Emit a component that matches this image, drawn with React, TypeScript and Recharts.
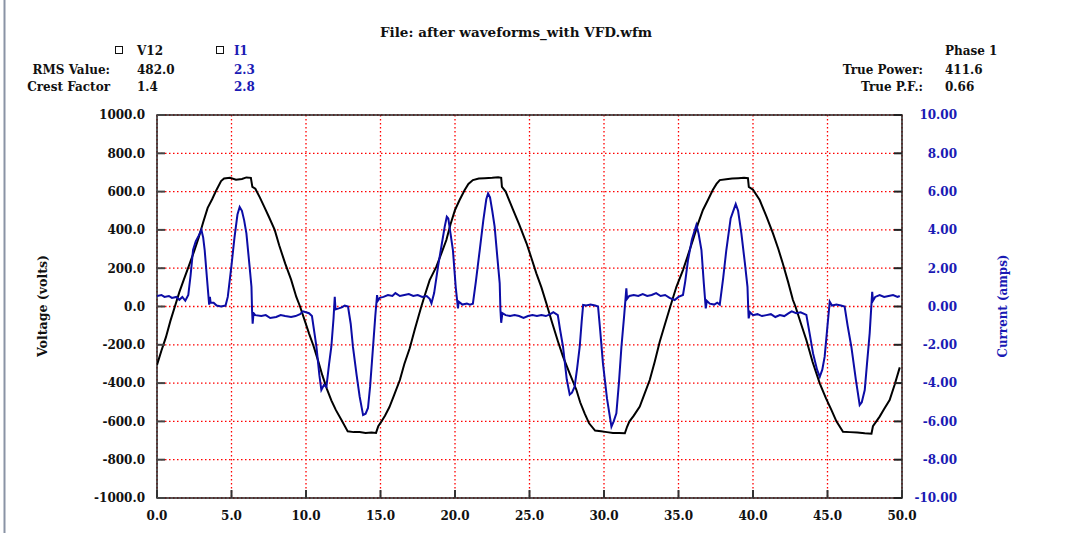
import React from "react";
import {
  LineChart,
  Line,
  XAxis,
  YAxis,
  CartesianGrid,
  ReferenceArea,
} from "recharts";

// V12 voltage trace (ms, volts)
const voltageTime = [
  0, 0.3, 0.6, 0.9, 1.2, 1.5, 1.8, 2.2, 2.5, 2.8, 3.1, 3.4, 3.7, 4.0, 4.3, 4.5, 4.9, 5.3, 5.7, 6.0, 6.3,
  6.4, 6.6, 6.9, 7.2, 7.5, 7.9, 8.2, 8.6, 9.0, 9.35, 9.6, 9.9, 10.2, 10.5, 10.8, 11.1, 11.4, 11.7, 12.0,
  12.4, 12.8, 13.2, 13.6, 14.0, 14.4, 14.7, 14.85, 15.0, 15.3, 15.6, 15.9, 16.3, 16.6, 16.96, 17.3, 17.74,
  18.0, 18.3, 18.75, 19.1, 19.42, 19.7, 20.0, 20.3, 20.65, 20.9, 21.2, 21.6, 22.0, 22.5, 22.9, 23.1,
  23.15, 23.4, 23.9, 24.3, 24.8, 25.1, 25.46, 25.8, 26.13, 26.5, 26.9, 27.25, 27.7, 28.15, 28.4, 28.7,
  29.0, 29.4, 29.8, 30.2, 30.6, 31.0, 31.4, 31.55, 31.7, 32.0, 32.4, 32.7, 33.07, 33.4, 33.74, 34.1, 34.45,
  34.86, 35.3, 35.6, 35.97, 36.3, 36.64, 37.0, 37.3, 37.55, 37.77, 38.2, 38.6, 39.0, 39.4, 39.66, 39.72,
  40.0, 40.45, 40.9, 41.34, 41.7, 42.0, 42.35, 42.68, 42.85, 43.2, 43.58, 44.0, 44.48, 44.9, 45.26, 45.6,
  46.04, 46.5, 47.0, 47.5, 47.95, 48.05, 48.5, 48.8, 49.17, 49.5, 49.85,
];
const voltageValues = [
  -305, -230, -160, -75, 0, 75, 140, 225, 290, 360, 440, 515, 560, 610, 655, 668, 672, 662, 666, 674, 672,
  625, 615, 570, 520, 470, 400, 320, 225, 140, 50, 0, -70, -140, -205, -280, -360, -430, -490, -540,
  -595, -652, -656, -656, -660, -658, -660, -625, -608, -570, -525, -465, -384, -300, -218, -120, 0,
  65, 138, 208, 280, 347, 430, 504, 555, 608, 640, 660, 668, 670, 672, 675, 672,
  625, 600, 504, 430, 330, 260, 173, 100, 17, -80, -180, -262, -350, -436, -500, -558,
  -610, -648, -652, -656, -660, -660, -662, -628, -601, -570, -523, -460, -384, -290, -184, -90, 0,
  103, 190, 260, 347, 430, 504, 560, 608, 640, 660, 664, 668, 670, 672, 670, 625,
  610, 556, 470, 382, 300, 225, 130, 34, 0, -85, -175, -290, -401, -480, -540, -600,
  -654, -656, -658, -662, -664, -625, -575, -535, -488, -410, -318,
];

// I1 current trace (ms, amps)
const currentTime = [
  0, 0.3, 0.5, 0.8, 1.0, 1.3, 1.5, 1.7, 1.9, 2.1, 2.25, 2.42, 2.6, 2.8, 2.98, 3.1, 3.2, 3.35, 3.5, 3.55,
  3.6, 3.8, 4.0, 4.3, 4.6, 4.75, 4.99, 5.2, 5.4, 5.55, 5.7, 5.85, 6.0, 6.2, 6.34, 6.38, 6.42, 6.48, 6.6,
  7.0, 7.3, 7.6, 8.0, 8.3, 8.6, 9.0, 9.3, 9.6, 9.8, 10.0, 10.2, 10.4, 10.7, 10.9, 11.03, 11.2, 11.37,
  11.55, 11.7, 11.85, 11.93, 11.98, 12.2, 12.4, 12.6, 12.82, 13.0, 13.15, 13.4, 13.6, 13.83, 14.0, 14.16,
  14.3, 14.5, 14.65, 14.77, 14.82, 14.95, 15.2, 15.5, 15.8, 16.0, 16.3, 16.6, 16.9, 17.2, 17.5, 17.8,
  18.1, 18.3, 18.42, 18.6, 18.86, 19.1, 19.31, 19.45, 19.55, 19.7, 19.86, 20.05, 20.2, 20.25, 20.5, 20.8,
  21.0, 21.2, 21.4, 21.66, 21.9, 22.1, 22.22, 22.35, 22.5, 22.66, 22.85, 23.0, 23.05, 23.1, 23.18, 23.4,
  23.7, 24.0, 24.3, 24.6, 24.9, 25.2, 25.5, 25.8, 26.1, 26.4, 26.6, 26.9, 27.05, 27.25, 27.5, 27.7, 27.85,
  28.03, 28.2, 28.37, 28.5, 28.6, 28.8, 29.1, 29.4, 29.6, 29.75, 29.93, 30.2, 30.5, 30.65, 30.83, 31.0,
  31.17, 31.35, 31.5, 31.55, 31.7, 32.0, 32.3, 32.6, 32.9, 33.2, 33.5, 33.8, 34.1, 34.4, 34.74, 35.0,
  35.3, 35.45, 35.64, 35.9, 36.2, 36.35, 36.54, 36.7, 36.83, 36.9, 37.1, 37.4, 37.6, 37.77, 38.0, 38.21,
  38.5, 38.84, 39.0, 39.22, 39.45, 39.63, 39.68, 39.71, 39.8, 40.0, 40.3, 40.6, 40.9, 41.2, 41.5, 41.8,
  42.1, 42.4, 42.6, 42.9, 43.2, 43.58, 43.8, 44.03, 44.3, 44.48, 44.65, 44.81, 45.0, 45.15, 45.3, 45.6,
  45.9, 46.15, 46.35, 46.6, 46.9, 47.16, 47.3, 47.5, 47.65, 47.83, 48.0, 48.05, 48.2, 48.5, 48.8, 49.1,
  49.4, 49.7, 49.85,
];
const currentValues = [
  0.55, 0.6, 0.5, 0.55, 0.45, 0.5, 0.35, 0.5, 0.3, 0.6, 1.6, 2.95, 3.4, 3.7, 4.0, 3.6, 2.95, 1.5, 0.1, 0.5,
  0.2, 0.2, 0.05, 0.0, 0.05, 0.5, 2.08, 3.6, 4.8, 5.2, 5.0, 4.5, 3.82, 2.2, 1.03, -0.2, -0.9, -0.35, -0.45,
  -0.5, -0.45, -0.6, -0.55, -0.45, -0.5, -0.55, -0.5, -0.4, -0.25, -0.3, -0.35, -0.5, -2.1, -3.6, -4.36, -4.1, -4.2,
  -3.0, -2.1, -0.6, 0.5, -0.15, -0.1, -0.05, 0.05, 0.0, -0.9, -2.1, -3.6, -4.7, -5.67, -5.6, -5.3,
  -4.2, -2.1, -0.5, 0.6, 0.3, 0.45, 0.5, 0.6, 0.55, 0.7, 0.55, 0.6, 0.65, 0.55, 0.6, 0.5,
  0.55, 0.4, 0.17, 0.7, 2.08, 3.2, 4.17, 4.69, 4.6, 3.8, 2.95, 1.0, -0.1, 0.25, 0.1, 0.15,
  0.1, 0.15, 1.3, 2.95, 4.5, 5.6, 5.9, 5.7, 5.0, 4.17, 2.5, 1.21, -0.2, -0.85, -0.35, -0.45,
  -0.5, -0.45, -0.5, -0.6, -0.5, -0.45, -0.5, -0.45, -0.5, -0.4, -0.3, -0.45, -1.2, -2.1, -3.8, -4.6, -4.5,
  -4.19, -3.2, -2.1, -0.8, 0.08, 0.05, 0.1, 0.05, 0.0, -1.3, -2.97, -4.8, -6.27, -6.0, -5.58, -4.0,
  -2.1, -0.5, 0.95, 0.4, 0.55, 0.6, 0.55, 0.65, 0.55, 0.6, 0.7, 0.55, 0.6, 0.45, 0.34, 0.5,
  0.6, 1.3, 2.43, 3.5, 4.26, 3.8, 2.95, 1.2, -0.1, 0.3, 0.15, 0.1, 0.2, 0.1, 1.5, 2.95,
  4.6, 5.35, 5.0, 3.82, 2.3, 1.03, -0.1, -0.62, -0.3, -0.45, -0.4, -0.5, -0.45, -0.4, -0.55, -0.45,
  -0.5, -0.35, -0.25, -0.35, -0.3, -0.44, -1.4, -2.45, -3.3, -3.67, -3.3, -2.62, -1.0, 0.25, 0.05, 0.1,
  0.05, 0.0, -1.0, -2.1, -3.8, -5.14, -5.0, -4.36, -3.0, -1.4, 0.77, 0.3, 0.5, 0.6, 0.5, 0.55,
  0.6, 0.5, 0.55,
];

const timeTicks = [0, 5, 10, 15, 20, 25, 30, 35, 40, 45, 50];
const voltTicks = [-1000, -800, -600, -400, -200, 0, 200, 400, 600, 800, 1000];
const ampTicks = [-10, -8, -6, -4, -2, 0, 2, 4, 6, 8, 10];

const voltageData = voltageTime.map((t, i) => ({ t, v: voltageValues[i] }));
const currentData = currentTime.map((t, i) => ({ t, a: currentValues[i] }));

const FONT = "'DejaVu Serif', serif";
const BLUE = "#0c0ca6";
const TEXT_BLUE = "#1a1ab4";

const txt = { fontFamily: FONT, fontWeight: 700, fontSize: 12 } as const;

const LeftTick = (props: any) => {
  const { x, y, payload } = props;
  return (
    <g>
      <line x1={x} x2={x + 8} y1={y} y2={y} stroke="#444" strokeWidth={2} />
      <text x={x - 12} y={y} dy="0.36em" textAnchor="end" fill="#111" {...txt}>
        {Number(payload.value).toFixed(1)}
      </text>
    </g>
  );
};

const RightTick = (props: any) => {
  const { x, y, payload } = props;
  return (
    <g>
      <line x1={x - 8} x2={x} y1={y} y2={y} stroke="#222" strokeWidth={2} />
      <text x={x + 55} y={y} dy="0.36em" textAnchor="end" fill={TEXT_BLUE} {...txt}>
        {Number(payload.value).toFixed(2)}
      </text>
    </g>
  );
};

const BottomTick = (props: any) => {
  const { x, y, payload } = props;
  return (
    <g>
      <line x1={x} x2={x} y1={y} y2={y - 8} stroke="#333" strokeWidth={2} />
      <text x={x} y={y + 22} textAnchor="middle" fill="#111" {...txt}>
        {Number(payload.value).toFixed(1)}
      </text>
    </g>
  );
};

export default function App() {
  return (
    <div
      style={{
        position: "absolute",
        left: 0,
        top: 0,
        width: 1086,
        height: 533,
        background: "#fff",
      }}
    >
      <LineChart
        width={1086}
        height={533}
        margin={{ top: 115, right: 124, bottom: 5, left: 0 }}
      >
        <CartesianGrid
          xAxisId="t"
          yAxisId="v"
          stroke="#ff0000"
          strokeWidth={1.3}
          strokeDasharray="1.5 2.5"
          horizontalValues={voltTicks}
          verticalValues={timeTicks}
        />
        <XAxis
          xAxisId="t"
          type="number"
          dataKey="t"
          domain={[0, 50]}
          ticks={timeTicks}
          allowDataOverflow
          axisLine={false}
          tickLine={false}
          tickSize={0}
          tickMargin={0}
          height={30}
          tick={<BottomTick />}
          interval={0}
        />
        <YAxis
          yAxisId="v"
          orientation="left"
          type="number"
          domain={[-1000, 1000]}
          ticks={voltTicks}
          axisLine={false}
          tickLine={false}
          tickSize={0}
          tickMargin={0}
          width={157}
          tick={<LeftTick />}
          interval={0}
        />
        <YAxis
          yAxisId="i"
          orientation="right"
          type="number"
          domain={[-10, 10]}
          ticks={ampTicks}
          axisLine={false}
          tickLine={false}
          tickSize={0}
          tickMargin={0}
          width={60}
          tick={<RightTick />}
          interval={0}
        />
        <Line
          xAxisId="t"
          yAxisId="v"
          data={voltageData}
          dataKey="v"
          type="linear"
          stroke="#000"
          strokeWidth={2}
          dot={false}
          activeDot={false}
          isAnimationActive={false}
        />
        <Line
          xAxisId="t"
          yAxisId="i"
          data={currentData}
          dataKey="a"
          type="linear"
          stroke={BLUE}
          strokeWidth={2}
          dot={false}
          activeDot={false}
          isAnimationActive={false}
        />
        <ReferenceArea
          xAxisId="t"
          yAxisId="v"
          x1={0}
          x2={50}
          y1={-1000}
          y2={1000}
          fill="none"
          stroke="#222"
          strokeWidth={1.5}
          ifOverflow="visible"
        />
      </LineChart>

      <svg
        width={1086}
        height={533}
        style={{ position: "absolute", left: 0, top: 0, pointerEvents: "none" }}
      >
        <line x1={4.5} x2={4.5} y1={0} y2={533} stroke="#8a93a5" strokeWidth={2} />
        <text
          x={516}
          y={37}
          textAnchor="middle"
          fill="#111"
          {...txt}
          fontSize={13}
          textLength={272}
          lengthAdjust="spacingAndGlyphs"
        >
          File: after waveforms_with VFD.wfm
        </text>

        <rect x={115.5} y={46.5} width={7} height={7} fill="none" stroke="#111" strokeWidth={1} />
        <text x={137} y={55} fill="#111" {...txt}>V12</text>
        <rect x={216.5} y={46.5} width={7} height={7} fill="none" stroke="#111" strokeWidth={1} />
        <text x={234} y={55} fill={TEXT_BLUE} {...txt}>I1</text>

        <text x={110} y={73.5} textAnchor="end" fill="#111" {...txt}>RMS Value:</text>
        <text x={137} y={73.5} fill="#111" {...txt}>482.0</text>
        <text x={234} y={73.5} fill={TEXT_BLUE} {...txt}>2.3</text>

        <text x={110} y={91} textAnchor="end" fill="#111" {...txt}>Crest Factor</text>
        <text x={137} y={91} fill="#111" {...txt}>1.4</text>
        <text x={234} y={91} fill={TEXT_BLUE} {...txt}>2.8</text>

        <text x={945} y={55} fill="#111" {...txt}>Phase 1</text>
        <text x={923} y={73.5} textAnchor="end" fill="#111" {...txt}>True Power:</text>
        <text x={945} y={73.5} fill="#111" {...txt}>411.6</text>
        <text x={923} y={91} textAnchor="end" fill="#111" {...txt}>True P.F.:</text>
        <text x={945} y={91} fill="#111" {...txt}>0.66</text>

        <text
          x={0}
          y={0}
          transform="translate(47,306) rotate(-90)"
          textAnchor="middle"
          fill="#111"
          {...txt}
          fontSize={12}
          textLength={102}
          lengthAdjust="spacingAndGlyphs"
        >
          Voltage (volts)
        </text>
        <text
          x={0}
          y={0}
          transform="translate(1007,306) rotate(-90)"
          textAnchor="middle"
          fill={TEXT_BLUE}
          {...txt}
          fontSize={12}
          textLength={103}
          lengthAdjust="spacingAndGlyphs"
        >
          Current (amps)
        </text>
      </svg>
    </div>
  );
}
